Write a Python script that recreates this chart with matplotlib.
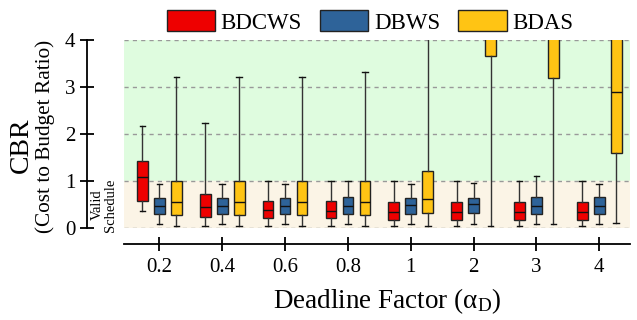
import matplotlib
matplotlib.use("Agg")
import matplotlib.pyplot as plt
from matplotlib.patches import Patch

plt.rcParams['font.family'] = ['Liberation Serif', 'DejaVu Serif']
plt.rcParams['mathtext.fontset'] = 'stix'

# factores de plazo (eje x)
factores = ["0.2", "0.4", "0.6", "0.8", "1", "2", "3", "4"]
series = ["BDCWS", "DBWS", "BDAS"]
colores = ["#EE0000", "#2E6399", "#FFC414"]

# estadisticas de cada caja: bigote bajo, q1, mediana, q3, bigote alto
bdcws_lo = [0.36, 0.04, 0.04, 0.04, 0.04, 0.04, 0.04, 0.04]
bdcws_q1 = [0.57, 0.24, 0.21, 0.21, 0.18, 0.18, 0.18, 0.18]
bdcws_med = [1.09, 0.45, 0.38, 0.37, 0.35, 0.35, 0.35, 0.35]
bdcws_q3 = [1.42, 0.72, 0.58, 0.57, 0.55, 0.55, 0.55, 0.55]
bdcws_hi = [2.17, 2.24, 0.99, 0.99, 0.99, 0.99, 0.99, 0.99]

dbws_lo = [0.09, 0.09, 0.09, 0.09, 0.09, 0.09, 0.09, 0.09]
dbws_q1 = [0.30, 0.30, 0.30, 0.30, 0.30, 0.31, 0.30, 0.30]
dbws_med = [0.47, 0.47, 0.47, 0.47, 0.48, 0.51, 0.47, 0.47]
dbws_q3 = [0.63, 0.63, 0.63, 0.65, 0.63, 0.63, 0.65, 0.65]
dbws_hi = [0.94, 0.94, 0.94, 1.01, 0.94, 0.96, 1.10, 0.94]

bdas_lo = [0.04, 0.04, 0.04, 0.04, 0.04, 0.04, 0.09, 0.11]
bdas_q1 = [0.28, 0.28, 0.28, 0.28, 0.31, 3.65, 3.20, 1.59]
bdas_med = [0.55, 0.55, 0.55, 0.55, 0.61, 4.60, 4.80, 2.89]
bdas_q3 = [1.01, 1.01, 1.01, 1.01, 1.21, 5.50, 6.00, 5.00]
bdas_hi = [3.21, 3.21, 3.21, 3.31, 4.80, 8.00, 9.00, 8.00]

datos = [
    (bdcws_lo, bdcws_q1, bdcws_med, bdcws_q3, bdcws_hi),
    (dbws_lo, dbws_q1, dbws_med, dbws_q3, dbws_hi),
    (bdas_lo, bdas_q1, bdas_med, bdas_q3, bdas_hi),
]

fig = plt.figure(figsize=(6.37, 3.2), dpi=100)
ax = fig.add_axes([0.195, 0.2875, 0.794, 0.5875])

# bandas de fondo
ax.axhspan(1, 4, color="#DFFCDF", zorder=0)
ax.axhspan(0, 1, color="#FBF4E6", zorder=0)

desplaz = [-0.27, 0, 0.27]
for k, (lo, q1, med, q3, hi) in enumerate(datos):
    stats = []
    for i in range(len(factores)):
        stats.append({"whislo": lo[i], "q1": q1[i], "med": med[i],
                      "q3": q3[i], "whishi": hi[i], "fliers": []})
    pos = [i + desplaz[k] for i in range(len(factores))]
    ax.bxp(stats, positions=pos, widths=0.17, patch_artist=True,
           showfliers=False,
           boxprops=dict(facecolor=colores[k], edgecolor="#222222", linewidth=1),
           medianprops=dict(color="#111111", linewidth=1),
           whiskerprops=dict(color="#333333", linewidth=1),
           capprops=dict(color="#111111", linewidth=1),
           capwidths=0.09)

ax.set_xlim(-0.56, 7.49)
ax.set_ylim(0, 4)
ax.set_xticks(range(len(factores)))
ax.set_xticklabels(factores)
ax.set_yticks([0, 1, 2, 3, 4])
ax.tick_params(axis="y", labelsize=15, direction="inout", length=10, width=1.3)
ax.tick_params(axis="x", labelsize=15, direction="inout", length=10, width=1.3, pad=5)

for y in [0, 1, 2, 3, 4]:
    ax.axhline(y, color="#999999", linestyle=(0, (3, 3)), linewidth=1, zorder=1)

for s in ["top", "right"]:
    ax.spines[s].set_visible(False)
ax.spines["left"].set_position(("outward", 26.6))
ax.spines["bottom"].set_position(("outward", 11.5))
ax.spines["left"].set_linewidth(1.3)
ax.spines["bottom"].set_linewidth(1.3)

ax.set_xlabel("Deadline Factor ($\\mathregular{\\alpha_{D}}$)", fontsize=19.5,
              va="center")
ax.xaxis.set_label_coords(0.52, -0.39)

fig.text(21 / 637, 1 - 145 / 320, "CBR", fontsize=20, rotation=90,
         ha="center", va="center")
fig.text(45 / 637, 1 - 136 / 320, "(Cost to Budget Ratio)", fontsize=15.3,
         rotation=90, ha="center", va="center")
ax.text(-0.04, 0.49, "Valid\nSchedule", fontsize=10.5, rotation=90,
        ha="center", va="center", linespacing=1.0,
        transform=ax.get_yaxis_transform())

manijas = [Patch(facecolor=c, edgecolor="#222222") for c in colores]
fig.legend(manijas, series, loc="center", bbox_to_anchor=(370 / 637, 1 - 22 / 320),
           ncol=3, frameon=False, fontsize=16.5, handlelength=2.1,
           handleheight=1.0, columnspacing=0.8, handletextpad=0.25)

fig.savefig("out.png", dpi=100)
